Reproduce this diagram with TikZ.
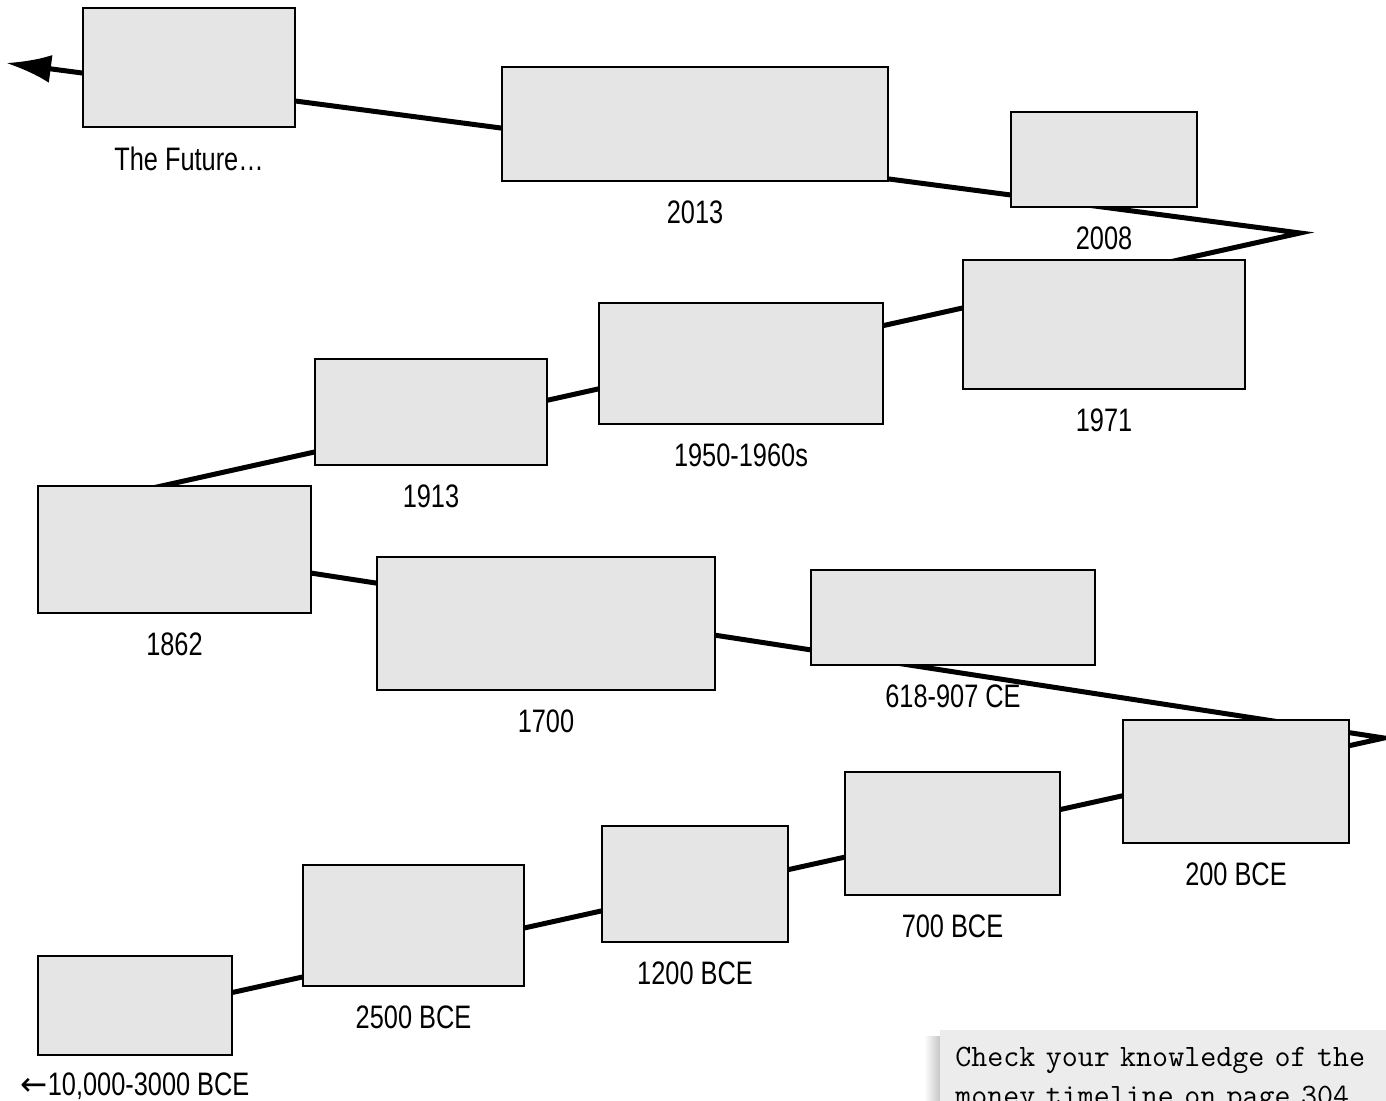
\documentclass[tikz,border=0pt]{standalone}
\usepackage{fontspec}
\setmainfont{Liberation Sans}[FakeStretch=0.78]
\newfontfamily\muiten{DejaVu Sans}
\usetikzlibrary{arrows.meta, calc, positioning}

\begin{document}
\begin{tikzpicture}[x=0.02cm, y=-0.02cm, label distance=0.38cm,
    hop/.style={draw=black, line width=0.9pt, fill=gray!20, inner sep=0pt},
    every label/.style={inner sep=0pt, font=\fontsize{18.5}{22}\selectfont}]
    \useasboundingbox (0,0) rectangle (1386,1101);

    % Các điểm gấp khúc của trục thời gian
    \coordinate (batdau) at (135,1014);
    \coordinate (gap1) at (1384,738);
    \coordinate (an1) at (200,556);
    \coordinate (an2) at (130,493);
    \coordinate (gap2) at (1300,233);
    \coordinate (ketthuc) at (6,63);

    % Vẽ đường gấp khúc
    \draw[line width=0.1cm, -{Latex[length=0.9cm, width=0.56cm]}]
        (batdau) -- (gap1) -- (an1) -- (an2) -- (gap2) -- (ketthuc);

    % Các ô mốc thời gian
    \node[hop, minimum width=4.24cm, minimum height=2.38cm, label=below:The Future…] (tuonglai) at (189,67.5) {};
    \node[hop, minimum width=7.72cm, minimum height=2.28cm, label=below:2013] (n2013) at (695,124) {};
    \node[hop, minimum width=3.72cm, minimum height=1.90cm, label=below:2008] (n2008) at (1104,159.5) {};
    \node[hop, minimum width=5.64cm, minimum height=2.58cm, label=below:1971] (n1971) at (1104,324.5) {};
    \node[hop, minimum width=5.68cm, minimum height=2.42cm, label=below:1950-1960s] (n1950) at (741,363.5) {};
    \node[hop, minimum width=4.64cm, minimum height=2.12cm, label=below:1913] (n1913) at (431,412) {};
    \node[hop, minimum width=5.46cm, minimum height=2.54cm, label=below:1862] (n1862) at (174.5,549.5) {};
    \node[hop, minimum width=6.76cm, minimum height=2.66cm, label=below:1700] (n1700) at (546,623.5) {};
    \node[hop, minimum width=5.68cm, minimum height=1.90cm, label=below:618-907 CE] (n618) at (953,617.5) {};
    \node[hop, minimum width=4.52cm, minimum height=2.46cm, label=below:200 BCE] (tcn200) at (1236,781.5) {};
    \node[hop, minimum width=4.30cm, minimum height=2.46cm, label=below:700 BCE] (tcn700) at (952.5,833.5) {};
    \node[hop, minimum width=3.72cm, minimum height=2.32cm, label=below:1200 BCE] (tcn1200) at (695,884) {};
    \node[hop, minimum width=4.42cm, minimum height=2.42cm, label=below:2500 BCE] (tcn2500) at (413.5,925.5) {};
    \node[hop, minimum width=3.88cm, minimum height=1.98cm, label={[label distance=0.34cm]below:{{\muiten ←}10,000-3000 BCE}}] (tcn10000) at (135,1005.5) {};

    % Ô ghi chú
    \shade[left color=white, right color=gray!45] (924,1036) rectangle (940,1101);
    \node[fill=gray!15, anchor=north west, text width=8.9cm, inner xsep=0.3cm, inner ysep=0.34cm,
        align=left, font=\fontsize{17.7}{22}\ttfamily] (ghichu) at (940,1030)
        {Check your knowledge of the\\money timeline on page 304.};
\end{tikzpicture}
\end{document}
